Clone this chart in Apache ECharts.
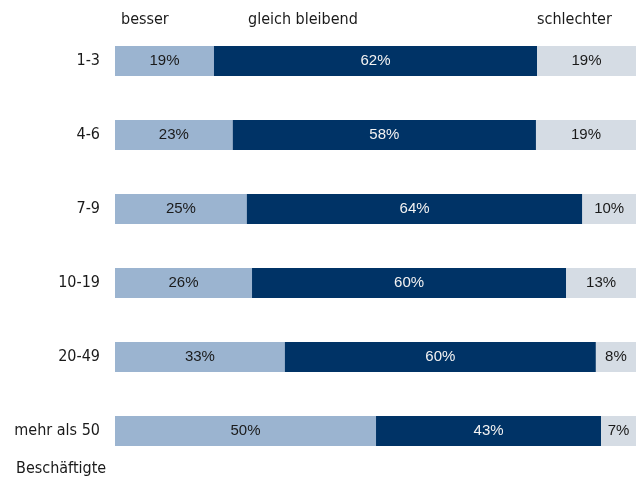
<!DOCTYPE html>
<html>
<head>
<meta charset="utf-8">
<script src="https://cdn.jsdelivr.net/npm/echarts@6/dist/echarts.min.js"></script>
<style>
  html, body { margin: 0; padding: 0; background: #fff; }
  #chart { width: 643px; height: 480px; }
</style>
</head>
<body>
<div id="chart"></div>
<script>
// Betriebsgrößen (Beschäftigte)
const categories = ['1-3', '4-6', '7-9', '10-19', '20-49', 'mehr als 50']
// Anteile in Prozent (aus Balkenlängen geschätzt, Beschriftung gerundet)
const besser = [19.0, 22.6, 25.3, 26.3, 32.6, 50.1]
const gleich = [62.0, 58.2, 64.4, 60.3, 59.7, 43.2]
const schlechter = [19.0, 19.2, 10.3, 13.4, 7.7, 6.7]
const seriesNames = ['besser', 'gleich bleibend', 'schlechter']

const catFont = 'DejaVu Sans Condensed, Liberation Sans Narrow, sans-serif'
const valFont = 'Liberation Sans Narrow, Liberation Sans, sans-serif'

const mychart = echarts.init(document.getElementById('chart'))

function barSeries(name, data, color, textColor) {
  return {
    name: name,
    type: 'bar',
    stack: 'gesamt',
    data: data,
    barWidth: 30,
    itemStyle: { color: color },
    label: {
      show: true,
      position: 'inside',
      color: textColor,
      fontFamily: valFont,
      fontSize: 15,
      formatter: (p) => Math.round(p.value) + '%'
    }
  }
}

const option = {
  animation: false,
  grid: { left: 115, right: 7, top: 24, bottom: 12 },
  xAxis: {
    type: 'value',
    min: 0,
    max: 100,
    show: false
  },
  yAxis: {
    type: 'category',
    inverse: true,
    data: categories,
    axisLine: { show: false },
    axisTick: { show: false },
    axisLabel: {
      margin: 15,
      color: '#1a1a1a',
      fontFamily: catFont,
      fontSize: 16
    }
  },
  graphic: [
    { type: 'text', left: 121, top: 12, style: { text: seriesNames[0], fill: '#1a1a1a', font: '16px ' + catFont } },
    { type: 'text', left: 248, top: 12, style: { text: seriesNames[1], fill: '#1a1a1a', font: '16px ' + catFont } },
    { type: 'text', left: 537, top: 12, style: { text: seriesNames[2], fill: '#1a1a1a', font: '16px ' + catFont } },
    { type: 'text', left: 16, top: 461, style: { text: 'Beschäftigte', fill: '#1a1a1a', font: '16px ' + catFont } }
  ],
  series: [
    barSeries(seriesNames[0], besser, '#9bb4d0', '#1a1a1a'),
    barSeries(seriesNames[1], gleich, '#003366', '#f2f2f2'),
    barSeries(seriesNames[2], schlechter, '#d5dce4', '#1a1a1a')
  ]
}
mychart.setOption(option)
</script>
</body>
</html>
